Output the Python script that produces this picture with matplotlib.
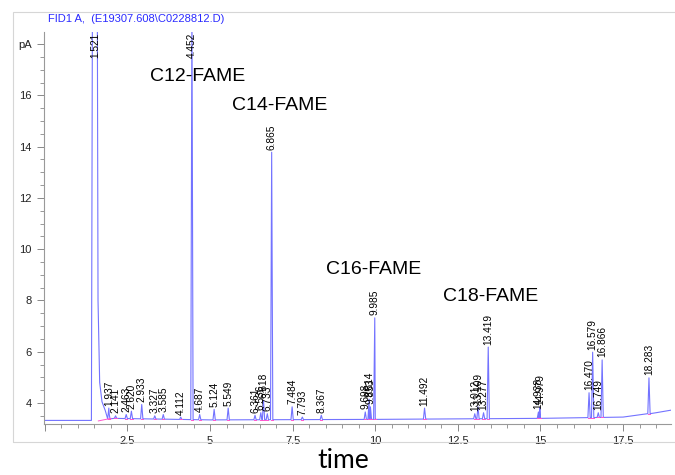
import numpy as np
import matplotlib
matplotlib.use("Agg")
import matplotlib.pyplot as plt
from matplotlib.patches import Rectangle
from matplotlib.ticker import MultipleLocator, FuncFormatter

# peak table (retention time, apex height in pA)
rts = [1.937, 2.141, 2.463, 2.620, 2.933, 3.327, 3.585, 4.112, 4.452, 4.687,
       5.124, 5.549, 6.361, 6.536, 6.618, 6.733, 6.865, 7.484, 7.793, 8.367,
       9.698, 9.814, 9.853, 9.985, 11.492, 13.012, 13.109, 13.277, 13.419,
       14.938, 14.979, 16.470, 16.579, 16.749, 16.866, 18.283]
heights = [3.80, 3.50, 3.55, 3.68, 3.94, 3.50, 3.55, 3.45, 19.5, 3.55,
           3.75, 3.80, 3.52, 3.62, 4.10, 3.58, 13.78, 3.85, 3.45, 3.52,
           3.65, 4.15, 3.85, 7.32, 3.80, 3.58, 3.85, 3.62, 6.18,
           3.65, 3.82, 4.40, 5.98, 3.62, 5.68, 4.98]

# solvent peak (clipped)
solv_t = [1.41, 1.46, 1.51, 1.57, 1.61, 1.66, 1.73, 1.83, 1.95]
solv_v = [3.32, 30.0, 27.0, 30.0, 8.0, 4.8, 4.05, 3.70, 3.55]
solv_label = 1.521

# baseline drift
base_t = [-0.04, 1.41, 2.1, 5.0, 10.0, 15.0, 17.5, 18.5, 18.95]
base_v = [3.32, 3.32, 3.40, 3.34, 3.36, 3.40, 3.45, 3.62, 3.72]

fame_names = ["C12-FAME", "C14-FAME", "C16-FAME", "C18-FAME"]
fame_x = [3.19, 5.67, 8.51, 12.05]
fame_y = [16.72, 15.59, 9.2, 8.15]

xmin, xmax = -0.04, 18.95
ymin, ymax = 3.18, 18.47
hw = 0.035

# assemble trace
pts = [p for p in zip(base_t, base_v) if not (solv_t[0] < p[0] < solv_t[-1])]
pts += list(zip(solv_t, solv_v))
for rt, h in zip(rts, heights):
    b = np.interp(rt, base_t, base_v)
    pts += [(rt - hw, b), (rt, h), (rt + hw, b)]
pts.sort()
tt = [p[0] for p in pts]
vv = [p[1] for p in pts]

fig = plt.figure(figsize=(6.75, 4.75), dpi=100)
plt.rcParams['font.family'] = ['Liberation Sans', 'DejaVu Sans']
ax = fig.add_axes([43.5/675, 1 - 424/475, (671-43.5)/675, (424-32)/475])

ax.plot(tt, vv, color='#7373ff', lw=0.8)
for rt in rts:
    b = np.interp(rt, base_t, base_v)
    ax.plot([rt - hw, rt + hw], [b, b], color='#ff55cc', lw=0.7)
ax.plot([1.62, 2.0], [3.30, 3.40], color='#ff55cc', lw=0.7)

# peak labels
lab_fs = 7.3
for rt, h in zip(rts, heights):
    if h > ymax:
        ax.text(rt, ymax - 0.03, "%.3f" % rt, rotation=90, ha='center', va='top', fontsize=lab_fs)
    else:
        ax.text(rt, h + 0.1, "%.3f" % rt, rotation=90, ha='center', va='bottom', fontsize=lab_fs)
ax.text(solv_label, ymax - 0.03, "%.3f" % solv_label, rotation=90, ha='center', va='top', fontsize=lab_fs)

for name, x, y in zip(fame_names, fame_x, fame_y):
    ax.text(x, y, name, fontsize=14, ha='left', va='center')

ax.set_xlim(xmin, xmax)
ax.set_ylim(ymin, ymax)
for s in ['top', 'right']:
    ax.spines[s].set_visible(False)
for s in ['left', 'bottom']:
    ax.spines[s].set_color('#999999')
    ax.spines[s].set_linewidth(0.8)

ax.xaxis.set_major_locator(MultipleLocator(2.5))
ax.xaxis.set_minor_locator(MultipleLocator(0.5))
ax.yaxis.set_major_locator(MultipleLocator(2))
ax.yaxis.set_minor_locator(MultipleLocator(0.5))
ax.xaxis.set_major_formatter(FuncFormatter(lambda v, p: "" if v <= 0 else "%g" % v))
ax.yaxis.set_major_formatter(FuncFormatter(lambda v, p: "pA" if abs(v - 18) < 1e-6 else "%g" % v))
ax.tick_params(which='both', colors='#888888', labelcolor='#222222', labelsize=8)
ax.tick_params(which='major', length=5, width=0.7)
ax.tick_params(which='minor', length=3, width=0.6)

fig.text(48/675, 1 - 19/475, "FID1 A,  (E19307.608\\C0228812.D)", color='#2b2bff',
         fontsize=8, ha='left', va='center')
fig.text(343/675, 1 - 460/475, "time", fontsize=19, ha='center', va='center',
         family=['Lato', 'DejaVu Sans'])

fig.add_artist(Rectangle((13/675, 1 - 442/475), 1.0, (442 - 12)/475,
                         transform=fig.transFigure, fill=False,
                         edgecolor='#d6d6d6', lw=0.8))

fig.savefig("out.png", dpi=100)
